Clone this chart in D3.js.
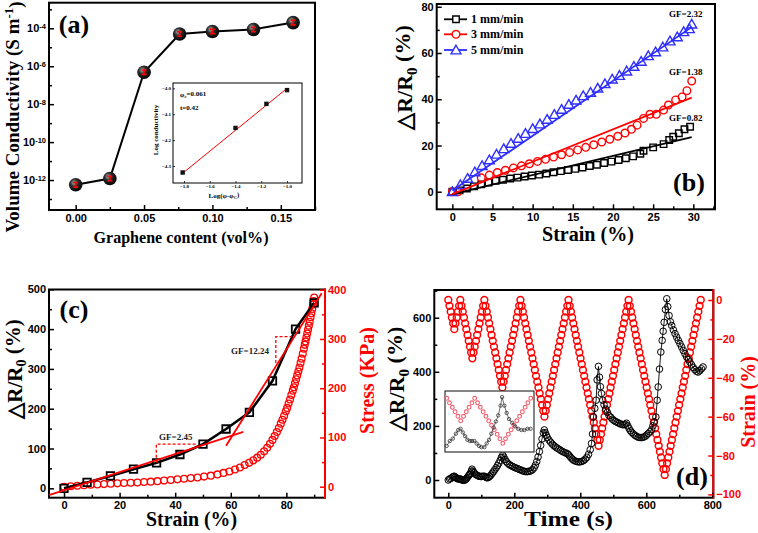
<!DOCTYPE html>
<html><head><meta charset="utf-8">
<script src="https://cdn.jsdelivr.net/npm/d3@7"></script>
<style>
body{margin:0;background:#fff;}
svg{display:block;}
</style></head><body>
<svg id="fig" width="758" height="533"></svg>
<script>
// ---------------- DATA ----------------
// (a) conductivity vs graphene content
const grapheneContent = [0, 0.025, 0.05, 0.076, 0.1, 0.13, 0.159];
const conductivity = [5.6e-13, 1.2e-12, 4.8e-7, 5.0e-5, 6.8e-5, 8.7e-5, 2.0e-4];
const conductivityErr = [0.12, 0.12, 0.12, 0.12, 0.12, 0.12, 0.12];
const condMajorTicks = [1e-12, 1e-10, 1e-8, 1e-6, 1e-4];
const condMinorTicks = [1e-13, 1e-11, 1e-9, 1e-7, 1e-5, 1e-3];
const grapheneMajorTicks = [0, 0.05, 0.10, 0.15];
const grapheneMinorTicks = [0.025, 0.075, 0.125, 0.175];
// (a) inset
const logPhi = [-1.81, -1.40, -1.16, -1.00];
const logCond = [-4.325, -4.153, -4.06, -4.007];
const logPhiFit = [-1.82, -1.0];
const logCondFit = [-4.332, -4.0];
const insetXTicks = [-1.8, -1.6, -1.4, -1.2, -1.0];
const insetYTicks = [-4.0, -4.1, -4.2, -4.3];

// (b) strain rate
const strain1 = [0,0.9,1.8,2.7,3.6,4.5,5.4,6.3,7.2,8.1,9.0,9.9,10.8,11.7,12.6,13.5,14.4,15.3,16.2,17.1,18.0,18.9,19.8,20.7,21.6,22.5,23.4,23.8,25.0,26.3,27.0,27.5,28.2,28.9,29.6];
const resp1 = [0,0.6,1.4,2.3,3.2,4.0,4.7,5.2,5.7,6.1,6.6,7.0,7.4,7.9,8.4,8.9,9.4,9.9,10.5,11.1,11.7,12.4,13.0,13.7,14.5,15.3,16.4,17.7,19.2,20.6,22.4,23.8,25.3,27.0,28.1];
const strain3 = [0,0.7,3.6,4.6,5.6,6.6,7.6,8.6,9.6,10.6,11.6,12.6,13.6,14.6,15.6,16.6,17.6,18.6,19.6,20.6,21.5,22.3,23.0,23.8,24.6,25.4,26.3,26.9,27.8,28.6,29.2,29.8];
const resp3 = [0,0,6.0,7.2,8.3,9.3,10.3,11.2,12.1,13.1,14.0,15.0,16.0,17.0,18.1,19.2,20.3,21.5,22.7,24.0,25.4,27.0,28.8,31.7,33.5,33.5,35.3,37.5,39.7,41.0,43.7,47.9];
const strain5 = [0,1.0,1.9,2.8,3.7,4.6,5.5,6.4,7.3,8.2,9.1,10.0,10.9,11.8,12.7,13.6,14.5,15.4,16.3,17.2,18.1,19.0,19.9,20.8,21.7,22.6,23.5,24.4,25.3,26.2,27.1,28.0,28.8,29.5,29.8];
const resp5 = [0,3.0,5.8,8.6,11.3,13.8,16.2,18.6,20.9,23.1,25.2,27.3,29.3,31.3,33.4,35.6,37.8,39.6,41.5,43.0,44.8,46.7,48.7,50.3,52.2,54.2,56.4,58.8,60.5,62.6,65.2,67.0,69.2,70.5,72.5];
const fitStrain = [0, 29.8];
const fit1 = [-1, 23.6];
const fit3 = [-1, 40.7];
const fit5 = [0.5, 71.2];
const rateLabels = ["1 mm/min", "3 mm/min", "5 mm/min"];
const gfLabelsB = ["GF=2.32", "GF=1.38", "GF=0.82"];

// (c) resistance and stress vs strain
const cStrain = [0, 8.3, 16.7, 25, 33.3, 41.7, 50, 58.3, 66.7, 75, 83.3, 90];
const cResp = [0, 15, 31, 48, 64, 85, 111, 149, 191, 270, 400, 466];
const stressStrain = [0,2.4,4.8,7.2,9.6,12,14.4,16.8,19.2,21.6,24,26.4,28.8,31.2,33.6,36,38.4,40.8,43.2,45.6,48,50.4,52.8,55.2,57.4,59.5,61.5,63.3,65,66.6,68.1,69.5,70.8,72,73.1,74.1,75,75.8,76.6,77.3,78,78.6,79.2,79.8,80.3,80.8,81.3,81.8,82.3,82.7,83.1,83.5,83.9,84.3,84.7,85.1,85.5,85.9,86.3,86.6,86.9,87.2,87.5,87.8,88.1,88.4,88.7,89,89.3,89.6,89.8,90];
const stress = [0,1,2,3,4,4.6,5.3,6,6.8,7.4,8,8.7,9.5,10.3,11.3,12.4,13.6,15,16.2,17.5,18.8,20.5,22.5,25,28,31,35,39,44,48.5,53.5,59,65,72,79,87,95,103,111,119,128,136,144,153,160,169,177,186,195,202,210,218,226,234,242,251,260,270,280,288,295,303,311,319,327,335,344,352,361,370,377,384];
const fitLowStrain = [-5.4, 64.5];
const fitLowResp = [-17, 142];
const fitHighStrain = [58.3, 92.7];
const fitHighResp = [107, 490];
const gfLowStrain = [33.2, 33.2, 47.7];
const gfLowResp = [64, 111, 111];
const gfHighStrain = [76.2, 76.2, 81.9];
const gfHighResp = [315, 381, 381];

// (d) cyclic test
const cycTime = [0,3.6,7.3,10.9,14.6,18.2,21.9,25.5,29.1,32.8,36.4,40.1,43.7,47.4,51.0,54.6,58.3,61.9,65.6,69.2,72.9,76.5,80.1,83.8,87.4,91.1,94.7,98.4,102.0,105.6,109.3,112.9,116.6,120.2,123.9,127.5,131.1,134.8,138.4,142.1,145.7,149.4,153.0,156.6,160.3,163.9,167.6,171.2,174.9,178.5,182.2,185.8,189.4,193.1,196.7,200.4,204.0,207.7,211.3,214.9,218.6,222.2,225.9,229.5,233.2,236.8,240.4,244.1,247.7,251.4,255.0,258.7,262.3,265.9,269.6,273.2,276.9,280.5,284.2,287.8,291.4,295.1,298.7,302.4,306.0,309.7,313.3,316.9,320.6,324.2,327.9,331.5,335.2,338.8,342.4,346.1,349.7,353.4,357.0,360.7,364.3,367.9,371.6,375.2,378.9,382.5,386.2,389.8,393.4,397.1,400.7,404.4,408.0,411.7,415.3,418.9,422.6,426.2,429.9,433.5,437.2,440.8,444.4,448.1,451.7,455.4,459.0,462.7,466.3,469.9,473.6,477.2,480.9,484.5,488.2,491.8,495.4,499.1,502.7,506.4,510.0,513.7,517.3,520.9,524.6,528.2,531.9,535.5,539.2,542.8,546.4,550.1,553.7,557.4,561.0,564.7,568.3,571.9,575.6,579.2,582.9,586.5,590.2,593.8,597.4,601.1,604.7,608.4,612.0,615.7,619.3,622.9,626.6,630.2,633.9,637.5,641.2,644.8,648.4,652.1,655.7,659.4,663.0,666.7,670.3,673.9,677.6,681.2,684.9,688.5,692.2,695.8,699.4,703.1,706.7,710.4,714.0,717.7,721.3,724.9,728.6,732.2,735.9,739.5,743.2,746.8,750.4,754.1,757.7,761.4,765.0];
const cycStrain = [0,-3,-6,-9,-12,-15,-12,-9,-6,-3,0,
 -3,-6,-9,-12,-15,-18,-21,-24,-27,-30,-27,-24,-21,-18,-15,-12,-9,-6,-3,0,
 -3,-6,-9,-12,-15,-18,-21,-24,-27,-30,-33,-36,-39,-42,-45,-42,-39,-36,-33,-30,-27,-24,-21,-18,-15,-12,-9,-6,-3,0,
 -3,-6,-9,-12,-15,-18,-21,-24,-27,-30,-33,-36,-39,-42,-45,-48,-51,-54,-57,-60,-57,-54,-51,-48,-45,-42,-39,-36,-33,-30,-27,-24,-21,-18,-15,-12,-9,-6,-3,0,
 -3,-6,-9,-12,-15,-18,-21,-24,-27,-30,-33,-36,-39,-42,-45,-48,-51,-54,-57,-60,-63,-66,-69,-72,-75,-72,-69,-66,-63,-60,-57,-54,-51,-48,-45,-42,-39,-36,-33,-30,-27,-24,-21,-18,-15,-12,-9,-6,-3,0,
 -3,-6,-9,-12,-15,-18,-21,-24,-27,-30,-33,-36,-39,-42,-45,-48,-51,-54,-57,-60,-63,-66,-69,-72,-75,-78,-81,-84,-87,-90,-87,-84,-81,-78,-75,-72,-69,-66,-63,-60,-57,-54,-51,-48,-45,-42,-39,-36,-33,-30,-27,-24,-21,-18,-15,-12,-9,-6,-3,0];
const respTime = [0,4,8,12,15,18,21,24,27,30,33,36,39,42,45,49,52,55,58,61,64,67,70,72,75,78,81,85,89,93,97,101,105,109,113,117,121,125,129,133,137,141,145,149,153,157,161,165,168,172,176,180,185,190,195,200,205,210,215,220,225,230,235,240,245,250,255,260,264,268,272,276,280,284,288,291,294,297,300,305,310,315,320,325,330,335,340,345,350,355,360,364,368,372,376,380,385,390,395,400,405,410,415,420,425,430,434,437,440,444,448,451,455,458,461,464,468,472,477,482,487,492,497,502,507,512,517,522,527,532,536,540,544,548,552,556,561,566,571,576,581,586,591,596,601,606,611,616,620,624,629,633,636,640,644,648,651,654,658,662,665,669,673,677,682,687,692,697,702,707,712,717,722,727,732,737,742,747,752,757,762,767,772];
const respCyc = [0,4,6,10,13,14,11,8,5,4,4,4,2,0,-1,-1,2,5,10,15,20,25,33,40,33,27,22,19,16,14,13,13,14,14,11,8,9,13,18,25,31,38,45,53,62,72,84,92,85,76,68,62,57,53,50,47,44,42,39,37,34,32,31,31,32,34,38,45,55,68,85,105,128,152,175,185,175,165,157,148,140,133,127,122,118,114,110,106,103,100,98,94,88,82,77,73,70,68,67,67,69,72,77,84,95,112,135,170,233,265,295,370,420,380,345,320,295,278,262,250,238,232,225,220,216,213,210,207,205,204,206,210,200,190,182,176,170,165,161,158,157,157,158,161,166,172,178,186,200,215,233,295,344,410,473,516,550,583,630,670,641,608,585,571,555,541,528,516,504,492,479,467,455,445,436,426,416,408,402,399,404,411,418];

// ---------------- DRAWING ----------------
const RED = '#ff0000', BLUE = '#2e2eff', BLACK = '#000';
const SERIF = '"Liberation Serif","Times New Roman",serif';
const SANS = '"Liberation Sans",Arial,sans-serif';
const svg = d3.select('#fig');
svg.append('rect').attr('width', 758).attr('height', 533).attr('fill', '#fff');

function frame(x0, y0, x1, y1) {
  svg.append('rect').attr('x', x0).attr('y', y0).attr('width', x1 - x0).attr('height', y1 - y0)
    .attr('fill', 'none').attr('stroke', BLACK).attr('stroke-width', 2);
}
function ticks(gen, scale, major, minor, fmt, tx, ty, opt) {
  opt = Object.assign({color: BLACK, maj: 5, min: 3, pad: 3, size: 11, font: SANS, sw: 1.5}, opt || {});
  const g = svg.append('g').attr('transform', `translate(${tx},${ty})`);
  const gmin = g.append('g').call(gen(scale).tickValues(minor).tickFormat('').tickSizeInner(-opt.min).tickSizeOuter(0));
  const gmaj = g.append('g').call(gen(scale).tickValues(major).tickFormat(fmt).tickSizeInner(-opt.maj).tickSizeOuter(0).tickPadding(opt.pad));
  g.selectAll('.domain').remove();
  g.selectAll('line').attr('stroke', opt.color).attr('stroke-width', opt.sw);
  gmaj.selectAll('text').attr('fill', opt.color).style('font-family', opt.font).style('font-weight', 'bold').style('font-size', opt.size + 'px');
  gmin.selectAll('text').remove();
  return gmaj;
}
function label(txt, x, y, opt) {
  opt = Object.assign({size: 20, color: BLACK, rot: 0, anchor: 'middle', font: SERIF, weight: 'bold'}, opt || {});
  const t = svg.append('text').attr('transform', `translate(${x},${y}) rotate(${opt.rot})`)
    .attr('text-anchor', opt.anchor).attr('fill', opt.color)
    .style('font-family', opt.font).style('font-weight', opt.weight).style('font-size', opt.size + 'px');
  if (Array.isArray(txt)) {
    txt.forEach(p => {
      const s = t.append('tspan').text(p.t);
      if (p.sub) s.attr('dy', '0.3em').style('font-size', '68%');
      if (p.sup) s.attr('dy', '-0.5em').style('font-size', '68%');
      if (p.back) s.attr('dy', p.back);
    });
  } else t.text(txt);
  if (opt.len) t.attr('textLength', opt.len).attr('lengthAdjust', 'spacingAndGlyphs');
  return t;
}
const dRR = [{t: '\u25B3R/R'}, {t: '0', sub: true}, {t: ' (%)', back: '-0.3em'}];

// ======== (a) ========
const aX = d3.scaleLinear().domain([-0.0195, 0.175]).range([49, 315]);
const aY = d3.scaleLog().domain([Math.pow(10, -13.58), Math.pow(10, -2.65)]).range([210, 2.7]);
frame(49, 2.7, 315, 210);
ticks(d3.axisBottom, aX, grapheneMajorTicks, grapheneMinorTicks, d3.format('.2f'), 0, 210, {pad: 4});
const aYt = ticks(d3.axisLeft, aY, condMajorTicks, condMinorTicks, () => '', 49, 0, {pad: 3});
aYt.selectAll('.tick text').each(function (d) {
  const t = d3.select(this);
  t.text(null);
  t.append('tspan').text('10');
  t.append('tspan').attr('dy', '-0.45em').style('font-size', '7.5px').text(Math.round(Math.log10(d)));
});
const aPts = grapheneContent.map((x, i) => ({x, y: conductivity[i], e: conductivityErr[i]}));
svg.append('path').datum(aPts).attr('d', d3.line().x(d => aX(d.x)).y(d => aY(d.y)))
  .attr('fill', 'none').attr('stroke', BLACK).attr('stroke-width', 2);
const rg = svg.append('defs').append('radialGradient').attr('id', 'ball').attr('cx', '38%').attr('cy', '35%').attr('r', '70%');
rg.append('stop').attr('offset', '0%').attr('stop-color', '#b0b0b0');
rg.append('stop').attr('offset', '40%').attr('stop-color', '#2a2a2a');
rg.append('stop').attr('offset', '100%').attr('stop-color', '#000');
const balls = svg.append('g').selectAll('g').data(aPts).join('g');
balls.append('circle').attr('cx', d => aX(d.x)).attr('cy', d => aY(d.y)).attr('r', 6.8).attr('fill', 'url(#ball)');
balls.append('path').attr('d', d => {
  const x = aX(d.x), y1 = aY(d.y * Math.pow(10, d.e)), y2 = aY(d.y / Math.pow(10, d.e));
  return `M${x},${y1}V${y2}M${x - 2.5},${y1}H${x + 2.5}M${x - 2.5},${y2}H${x + 2.5}`;
}).attr('stroke', RED).attr('stroke-width', 1.6).attr('fill', 'none');
label('Graphene content (vol%)', 181, 243, {size: 17, len: 175});
label([{t: 'Volume Conductivity (S m'}, {t: '-1', sup: true}, {t: ')', back: '0.5em'}], 19, 117, {size: 19, rot: -90});
label('(a)', 74, 33, {size: 26});
// inset
const iX = d3.scaleLinear().domain([-1.885, -0.884]).range([173, 302]);
const iY = d3.scaleLinear().domain([-4.3656, -3.9795]).range([183, 83]);
svg.append('rect').attr('x', 173).attr('y', 83).attr('width', 129).attr('height', 100)
  .attr('fill', '#fff').attr('stroke', BLACK).attr('stroke-width', 1);
ticks(d3.axisBottom, iX, insetXTicks, [], d3.format('.1f'), 0, 183, {maj: 2, pad: 1.5, size: 5, font: SERIF, sw: 0.8});
ticks(d3.axisLeft, iY, insetYTicks, [], d3.format('.1f'), 173, 0, {maj: 2, pad: 2, size: 5, font: SERIF, sw: 0.8});
svg.append('path').datum(logPhiFit.map((x, i) => [x, logCondFit[i]]))
  .attr('d', d3.line().x(d => iX(d[0])).y(d => iY(d[1]))).attr('stroke', RED).attr('stroke-width', 1).attr('fill', 'none');
svg.append('g').selectAll('rect').data(logPhi.map((x, i) => [x, logCond[i]])).join('rect')
  .attr('x', d => iX(d[0]) - 2.2).attr('y', d => iY(d[1]) - 2.2).attr('width', 4.4).attr('height', 4.4).attr('fill', '#111');
label('Log conductivity', 158, 130, {size: 7, rot: -90});
label([{t: 'Log(\u03C6-\u03C6'}, {t: 'C', sub: true}, {t: ')', back: '-0.3em'}], 224, 197.5, {size: 7});
label([{t: '\u03C6'}, {t: 'c', sub: true}, {t: '=0.061', back: '-0.3em'}], 180, 97, {size: 7, anchor: 'start'});
label('t=0.42', 180, 110, {size: 7, anchor: 'start'});

// ======== (b) ========
const bX = d3.scaleLinear().domain([-1.95, 32.7]).range([436.7, 715]);
const bY = d3.scaleLinear().domain([-7.6, 81.2]).range([209.3, 4]);
frame(436.7, 4, 715, 209.3);
ticks(d3.axisBottom, bX, [0, 5, 10, 15, 20, 25, 30], [2.5, 7.5, 12.5, 17.5, 22.5, 27.5, 32.5], d3.format('d'), 0, 209.3, {pad: 4});
ticks(d3.axisLeft, bY, [0, 20, 40, 60, 80], [10, 30, 50, 70], d3.format('d'), 436.7, 0, {pad: 3});
const line = d3.line();
function fitLine(xs, ys, sx, sy, color, w) {
  svg.append('path').datum(xs.map((x, i) => [sx(x), sy(ys[i])])).attr('d', line)
    .attr('fill', 'none').attr('stroke', color).attr('stroke-width', w || 1.8);
}
const sq = d3.symbol().type(d3.symbolSquare);
const tri = d3.symbol().type(d3.symbolTriangle);
function markers(xs, ys, sx, sy, kind, color, size, sw) {
  const g = svg.append('g');
  const pts = xs.map((x, i) => [sx(x), sy(ys[i])]);
  if (kind === 'circle') {
    g.selectAll('circle').data(pts).join('circle').attr('cx', d => d[0]).attr('cy', d => d[1]).attr('r', size)
      .attr('fill', 'none').attr('stroke', color).attr('stroke-width', sw);
  } else {
    const gen = kind === 'square' ? sq.size(size * size) : tri.size(size * size * 0.433);
    g.selectAll('path').data(pts).join('path').attr('d', gen).attr('transform', d => `translate(${d[0]},${d[1] + (kind === 'triangle' ? 1 : 0)})`)
      .attr('fill', 'none').attr('stroke', color).attr('stroke-width', sw);
  }
}
markers(strain1, resp1, bX, bY, 'square', BLACK, 6.5, 1.4);
markers(strain3, resp3, bX, bY, 'circle', RED, 3.8, 1.4);
markers(strain5, resp5, bX, bY, 'triangle', BLUE, 10, 1.4);
fitLine(fitStrain, fit1, bX, bY, BLACK);
fitLine(fitStrain, fit3, bX, bY, RED);
fitLine(fitStrain, fit5, bX, bY, BLUE);
// legend
const legY = [19.3, 34.3, 50];
const legC = [BLACK, RED, BLUE];
const legK = ['square', 'circle', 'triangle'];
rateLabels.forEach((t, i) => {
  svg.append('line').attr('x1', 444).attr('x2', 467).attr('y1', legY[i]).attr('y2', legY[i]).attr('stroke', legC[i]).attr('stroke-width', 1.8);
  const g = svg.append('g').attr('transform', `translate(456,${legY[i]})`);
  if (legK[i] === 'circle') g.append('circle').attr('r', 3.8).attr('fill', '#fff').attr('stroke', legC[i]).attr('stroke-width', 1.4);
  else if (legK[i] === 'square') g.append('path').attr('d', sq.size(42)).attr('fill', '#fff').attr('stroke', legC[i]).attr('stroke-width', 1.4);
  else g.append('path').attr('d', tri.size(43)).attr('transform', 'translate(0,1)').attr('fill', '#fff').attr('stroke', legC[i]).attr('stroke-width', 1.4);
  label(t, 471, legY[i] + 4, {size: 12, anchor: 'start'});
});
label(gfLabelsB[0], 669, 16.5, {size: 9, anchor: 'start'});
label(gfLabelsB[1], 669, 75, {size: 9, anchor: 'start'});
label(gfLabelsB[2], 669, 120.5, {size: 9, anchor: 'start'});
label('(b)', 689, 191, {size: 26});
label('Strain (%)', 588, 241, {size: 20, len: 92});
label(dRR, 412, 77.5, {size: 22, rot: -90});

// ======== (c) ========
const cX = d3.scaleLinear().domain([-5.4, 93.9]).range([49, 325]);
const cYL = d3.scaleLinear().domain([-23.6, 499.5]).range([497.7, 289.5]);
const cYR = d3.scaleLinear().domain([-22.3, 400.4]).range([497.7, 289.5]);
frame(49, 289.5, 325, 497.7);
svg.append('line').attr('x1', 325).attr('x2', 325).attr('y1', 288.5).attr('y2', 498.7).attr('stroke', RED).attr('stroke-width', 2);
ticks(d3.axisBottom, cX, [0, 20, 40, 60, 80], [10, 30, 50, 70, 90], d3.format('d'), 0, 497.7, {pad: 4});
ticks(d3.axisLeft, cYL, [0, 100, 200, 300, 400, 500], [50, 150, 250, 350, 450], d3.format('d'), 49, 0, {pad: 3});
ticks(d3.axisRight, cYR, [0, 100, 200, 300, 400], [50, 150, 250, 350], d3.format('d'), 325, 0, {pad: 3, color: RED});
markers(stressStrain, stress, cX, cYR, 'circle', RED, 3.4, 1.3);
fitLine(cStrain, cResp, cX, cYL, BLACK, 2.5);
markers(cStrain, cResp, cX, cYL, 'square', BLACK, 7.5, 1.8);
fitLine(fitLowStrain, fitLowResp, cX, cYL, RED, 1.8);
fitLine(fitHighStrain, fitHighResp, cX, cYL, RED, 1.8);
[[gfLowStrain, gfLowResp], [gfHighStrain, gfHighResp]].forEach(([xs, ys]) => {
  svg.append('path').datum(xs.map((x, i) => [cX(x), cYL(ys[i])])).attr('d', line)
    .attr('fill', 'none').attr('stroke', RED).attr('stroke-width', 1.3).attr('stroke-dasharray', '3,2');
});
label('GF=2.45', 159, 440, {size: 9, anchor: 'start', color: '#222'});
label('GF=12.24', 231, 354, {size: 9, anchor: 'start', color: '#222'});
label('(c)', 74, 318, {size: 26});
label('Strain (%)', 191.5, 526, {size: 20, len: 91});
label(dRR, 22, 369, {size: 21, rot: -90});
label('Stress (KPa)', 374, 380.5, {size: 20, rot: -90, color: RED});

// ======== (d) ========
const dX = d3.scaleLinear().domain([-42.4, 803]).range([434.3, 713.3]);
const dYL = d3.scaleLinear().domain([-65.4, 702.4]).range([497.7, 290]);
const dYR = d3.scaleLinear().domain([-101.7, 5.15]).range([497.7, 290]);
frame(434.3, 290, 713.3, 497.7);
svg.append('line').attr('x1', 713.3).attr('x2', 713.3).attr('y1', 289).attr('y2', 498.7).attr('stroke', RED).attr('stroke-width', 2);
ticks(d3.axisBottom, dX, [0, 200, 400, 600, 800], [100, 300, 500, 700], d3.format('d'), 0, 497.7, {pad: 4});
ticks(d3.axisLeft, dYL, [0, 200, 400, 600], [100, 300, 500, 700], d3.format('d'), 434.3, 0, {pad: 3});
ticks(d3.axisRight, dYR, [0, -20, -40, -60, -80, -100], [-10, -30, -50, -70, -90], d3.format('d'), 713.3, 0, {pad: 3, color: RED});
markers(cycTime, cycStrain, dX, dYR, 'circle', RED, 3.4, 1.5);
fitLine(respTime, respCyc, dX, dYL, BLACK, 0.9);
markers(respTime, respCyc, dX, dYL, 'circle', BLACK, 3.3, 1);
// inset
const jX = d3.scaleLinear().domain([-2.2, 113.5]).range([445, 534]);
const jYS = d3.scaleLinear().domain([-35.8, 4.87]).range([452, 391]);
const jYR = d3.scaleLinear().domain([-5, 45]).range([452, 391]);
svg.append('rect').attr('x', 445).attr('y', 391).attr('width', 89).attr('height', 61)
  .attr('fill', '#fff').attr('stroke', '#333').attr('stroke-width', 1.2);
const inS = cycTime.map((t, i) => i).filter(i => cycTime[i] <= 110);
markers(inS.map(i => cycTime[i]), inS.map(i => cycStrain[i]), jX, jYS, 'circle', '#f06070', 1.9, 1.1);
const inR = respTime.map((t, i) => i).filter(i => respTime[i] <= 110);
fitLine(inR.map(i => respTime[i]), inR.map(i => respCyc[i]), jX, jYR, '#333', 0.7);
markers(inR.map(i => respTime[i]), inR.map(i => respCyc[i]), jX, jYR, 'circle', '#333', 1.7, 0.8);
label('(d)', 692, 485, {size: 26});
label('Time (s)', 568.5, 526, {size: 20, len: 89});
label(dRR, 404, 379, {size: 22, rot: -90});
label('Strain (%)', 755, 402, {size: 20, rot: -90, color: RED});
</script>
</body></html>
